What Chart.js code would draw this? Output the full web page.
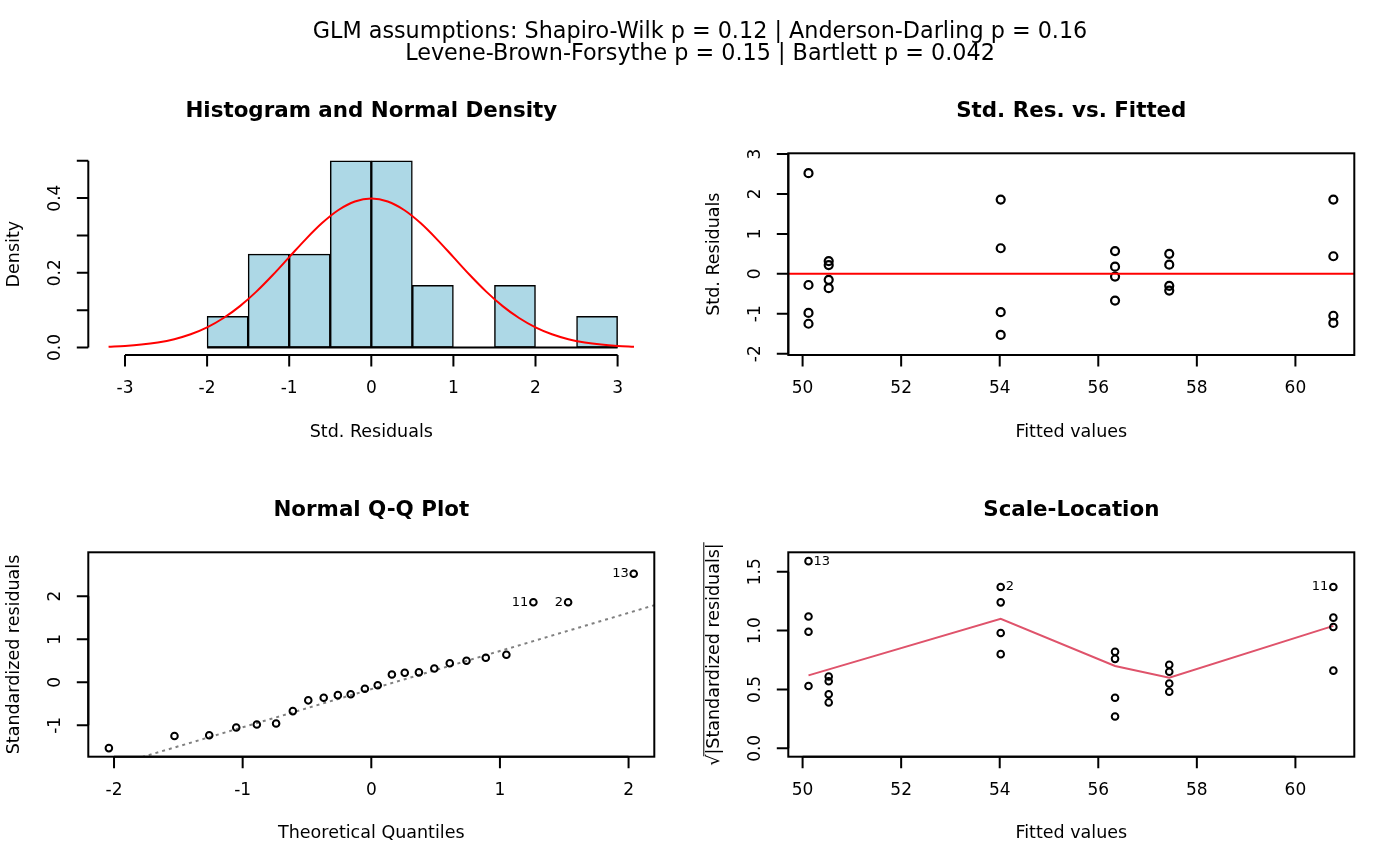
<!DOCTYPE html>
<html>
<head>
<meta charset="utf-8">
<script src="https://cdn.jsdelivr.net/npm/chart.js@4.4.1/dist/chart.umd.min.js"></script>
<style>
  body { margin: 0; background: #fff; }
  #page { position: relative; width: 1400px; height: 866px; font-family: "DejaVu Sans", sans-serif; }
  canvas { position: absolute; }
  #main-title { position: absolute; left: 0; top: 19.8px; width: 1400px; text-align: center;
                font-size: 22.3px; line-height: 21.7px; color: #000; }
</style>
</head>
<body>
<div id="page">
  <canvas id="hist" width="700" height="480" style="left:0;top:0"></canvas>
  <canvas id="resfit" width="700" height="480" style="left:700px;top:0"></canvas>
  <canvas id="qq" width="700" height="433" style="left:0;top:433px"></canvas>
  <canvas id="scaleloc" width="700" height="433" style="left:700px;top:433px"></canvas>
  <div id="main-title">GLM assumptions: Shapiro-Wilk p = 0.12 | Anderson-Darling p = 0.16<br>Levene-Brown-Forsythe p = 0.15 | Bartlett p = 0.042</div>
</div>
<script>
// ---- data ----
// histogram of standardized residuals (bin width 0.5)
const binMids = [-1.75, -1.25, -0.75, -0.25, 0.25, 0.75, 1.25, 1.75, 2.25, 2.75];
const binDensity = [0.0833, 0.25, 0.25, 0.5, 0.5, 0.1667, 0, 0.1667, 0, 0.0833];
const binEdges = [-2, 3];

// normal density curve
const curveX = [-3.2, -3.0, -2.8, -2.6, -2.4, -2.2, -2.0, -1.8, -1.6, -1.4, -1.2, -1.0, -0.8, -0.6, -0.4, -0.2, 0,
                0.2, 0.4, 0.6, 0.8, 1.0, 1.2, 1.4, 1.6, 1.8, 2.0, 2.2, 2.4, 2.6, 2.8, 3.0, 3.2];
const curveY = [0.0024, 0.0044, 0.0079, 0.0136, 0.0224, 0.0355, 0.054, 0.079, 0.1109, 0.1497, 0.1942, 0.242, 0.2897, 0.3332, 0.3683, 0.391, 0.3989,
                0.391, 0.3683, 0.3332, 0.2897, 0.242, 0.1942, 0.1497, 0.1109, 0.079, 0.054, 0.0355, 0.0224, 0.0136, 0.0079, 0.0044, 0.0024];

// fitted values and standardized residuals
const fitted = [50.12, 50.12, 50.12, 50.12, 50.53, 50.53, 50.53, 50.53, 54.02, 54.02, 54.02, 54.02,
                56.34, 56.34, 56.34, 56.34, 57.44, 57.44, 57.44, 57.44, 60.77, 60.77, 60.77, 60.77];
const stdRes = [2.52, -0.28, -0.98, -1.25, 0.32, 0.22, -0.15, -0.36, 1.86, 0.64, -0.96, -1.53,
                0.57, 0.18, -0.07, -0.67, 0.50, 0.23, -0.30, -0.42, 1.86, 0.44, -1.05, -1.23];
const sqrtAbsRes = [1.59, 0.53, 0.99, 1.12, 0.57, 0.46, 0.39, 0.61, 1.37, 0.80, 0.98, 1.24,
                    0.76, 0.43, 0.27, 0.82, 0.71, 0.48, 0.55, 0.65, 1.37, 0.66, 1.03, 1.11];

// smoother on scale-location
const smoothX = [50.12, 54.02, 56.34, 57.44, 60.77];
const smoothY = [0.62, 1.10, 0.70, 0.60, 1.04];

// normal Q-Q
const qqTheo = [-2.04, -1.53, -1.26, -1.05, -0.89, -0.74, -0.61, -0.49, -0.37, -0.26, -0.16, -0.05,
                0.05, 0.16, 0.26, 0.37, 0.49, 0.61, 0.74, 0.89, 1.05, 1.26, 1.53, 2.04];
const qqSample = [-1.53, -1.25, -1.23, -1.05, -0.98, -0.96, -0.67, -0.42, -0.36, -0.30, -0.28, -0.15,
                  -0.07, 0.18, 0.22, 0.23, 0.32, 0.44, 0.50, 0.57, 0.64, 1.86, 1.86, 2.52];
const qqLineX = [-2.2, 2.2];
const qqLineY = [-2.11, 1.79];

// ticks
const histXTicks = [-3, -2, -1, 0, 1, 2, 3];
const histYTicks = [0, 0.1, 0.2, 0.3, 0.4, 0.5];
const histYLabels = ['0.0', '', '0.2', '', '0.4', ''];
const fitXTicks = [50, 52, 54, 56, 58, 60];
const resYTicks = [-2, -1, 0, 1, 2, 3];
const qqXTicks = [-2, -1, 0, 1, 2];
const qqYTicks = [-1, 0, 1, 2];
const slYTicks = [0, 0.5, 1, 1.5];
const slYLabels = ['0.0', '0.5', '1.0', '1.5'];

const FONT = '"DejaVu Sans", sans-serif';
const TICK = 11.5;

// R-style axes, box, titles and point labels drawn on top of the library's scales
const rAxes = {
    id: 'rAxes',
    afterDraw(chart, args, o) {
        const ctx = chart.ctx, a = chart.chartArea;
        const xs = chart.scales.x, ys = chart.scales.y;
        ctx.save();
        ctx.strokeStyle = '#000';
        ctx.fillStyle = '#000';
        ctx.lineWidth = 2;
        if (o.box) ctx.strokeRect(a.left, a.top, a.right - a.left, a.bottom - a.top);

        // x axis
        const xp = o.xTicks.map(v => xs.getPixelForValue(v));
        ctx.beginPath();
        ctx.moveTo(xp[0], a.bottom);
        ctx.lineTo(xp[xp.length - 1], a.bottom);
        xp.forEach(p => { ctx.moveTo(p, a.bottom); ctx.lineTo(p, a.bottom + TICK); });
        // y axis
        const yp = o.yTicks.map(v => ys.getPixelForValue(v));
        ctx.moveTo(a.left, yp[0]);
        ctx.lineTo(a.left, yp[yp.length - 1]);
        yp.forEach(p => { ctx.moveTo(a.left, p); ctx.lineTo(a.left - TICK, p); });
        ctx.stroke();

        // tick labels
        ctx.font = '17px ' + FONT;
        ctx.textAlign = 'center';
        ctx.textBaseline = 'middle';
        xp.forEach((p, i) => ctx.fillText(o.xLabels ? o.xLabels[i] : String(o.xTicks[i]), p, a.bottom + 33.5));
        yp.forEach((p, i) => {
            const txt = o.yLabels ? o.yLabels[i] : String(o.yTicks[i]);
            if (!txt) return;
            ctx.save();
            ctx.translate(a.left - 33, p);
            ctx.rotate(-Math.PI / 2);
            ctx.fillText(txt, 0, 0);
            ctx.restore();
        });

        // axis titles
        const cx = (a.left + a.right) / 2, cy = (a.top + a.bottom) / 2;
        ctx.font = '17.5px ' + FONT;
        ctx.fillText(o.xTitle, cx, a.bottom + 77);
        ctx.save();
        ctx.translate(a.left - 74, cy);
        ctx.rotate(-Math.PI / 2);
        ctx.fillText(o.yTitle, 0, 0);
        if (o.sqrtBar) {
            // overbar of the radical sign
            const w = ctx.measureText(o.yTitle).width;
            const w0 = ctx.measureText('√').width;
            ctx.lineWidth = 1;
            ctx.beginPath();
            ctx.moveTo(-w / 2 + w0 * 0.85, -10.5);
            ctx.lineTo(w / 2 + 1, -10.5);
            ctx.stroke();
        }
        ctx.restore();

        // panel title
        ctx.font = 'bold 21.4px ' + FONT;
        ctx.textBaseline = 'alphabetic';
        ctx.fillText(o.title, cx, a.top - 36.6);

        // labels next to points
        ctx.font = '13px ' + FONT;
        ctx.textBaseline = 'middle';
        (o.pointLabels || []).forEach(l => {
            const pt = chart.getDatasetMeta(l.ds).data[l.i];
            ctx.textAlign = l.side === 'left' ? 'right' : 'left';
            ctx.fillText(l.text, pt.x + (l.side === 'left' ? -5 : 5), pt.y);
        });
        ctx.restore();
    }
};

function baseOptions(xMin, xMax, yMin, yMax, padTop, padBottom, axes) {
    return {
        responsive: false,
        animation: false,
        layout: { padding: { left: 88.3, right: 45.7, top: padTop, bottom: padBottom } },
        scales: {
            x: { type: 'linear', display: false, min: xMin, max: xMax, offset: false },
            y: { type: 'linear', display: false, min: yMin, max: yMax }
        },
        plugins: { legend: { display: false }, tooltip: { enabled: false }, rAxes: axes }
    };
}

const pointStyle = (r, bw) => ({
    pointRadius: r, pointBorderWidth: bw, pointBorderColor: '#000',
    pointBackgroundColor: 'rgba(0,0,0,0)', showLine: false
});

// ---- histogram and normal density ----
new Chart(document.getElementById('hist'), {
    type: 'bar',
    data: {
        datasets: [
            {
                type: 'line', order: 0,
                data: curveX.map((x, i) => ({ x: x, y: curveY[i] })),
                borderColor: '#FF0000', borderWidth: 2, pointRadius: 0,
                cubicInterpolationMode: 'monotone'
            },
            {
                type: 'line', order: 1,
                data: binEdges.map(x => ({ x: x, y: 0 })),
                borderColor: '#000', borderWidth: 2, pointRadius: 0
            },
            {
                type: 'bar', order: 2,
                data: binMids.map((x, i) => ({ x: x, y: binDensity[i] })),
                backgroundColor: '#ADD8E6', borderColor: '#000', borderWidth: 1.5,
                borderSkipped: false, barPercentage: 1, categoryPercentage: 1
            }
        ]
    },
    options: baseOptions(-3.447, 3.447, -0.02, 0.52, 153.3, 125, {
        box: false, title: 'Histogram and Normal Density',
        xTitle: 'Std. Residuals', yTitle: 'Density',
        xTicks: histXTicks, yTicks: histYTicks, yLabels: histYLabels
    }),
    plugins: [rAxes]
});

// ---- std. residuals vs fitted ----
const fitMin = 49.71, fitMax = 61.195;
new Chart(document.getElementById('resfit'), {
    type: 'scatter',
    data: {
        datasets: [
            {
                type: 'line', order: 0,
                data: [{ x: fitMin, y: 0 }, { x: fitMax, y: 0 }],
                borderColor: '#FF0000', borderWidth: 2, pointRadius: 0
            },
            Object.assign({ order: 1, data: fitted.map((x, i) => ({ x: x, y: stdRes[i] })) }, pointStyle(4, 2.2))
        ]
    },
    options: baseOptions(fitMin, fitMax, -2.033, 3.018, 153.3, 125, {
        box: true, title: 'Std. Res. vs. Fitted',
        xTitle: 'Fitted values', yTitle: 'Std. Residuals',
        xTicks: fitXTicks, yTicks: resYTicks
    }),
    plugins: [rAxes]
});

// ---- normal Q-Q ----
new Chart(document.getElementById('qq'), {
    type: 'scatter',
    data: {
        datasets: [
            Object.assign({ order: 0, data: qqTheo.map((x, i) => ({ x: x, y: qqSample[i] })) }, pointStyle(3.3, 2)),
            {
                type: 'line', order: 1,
                data: qqLineX.map((x, i) => ({ x: x, y: qqLineY[i] })),
                borderColor: '#808080', borderWidth: 2, borderDash: [3, 4], pointRadius: 0
            }
        ]
    },
    options: baseOptions(-2.2, 2.2, -1.73, 3.02, 119.3, 109.3, {
        box: true, title: 'Normal Q-Q Plot',
        xTitle: 'Theoretical Quantiles', yTitle: 'Standardized residuals',
        xTicks: qqXTicks, yTicks: qqYTicks,
        pointLabels: [
            { ds: 0, i: 21, text: '11', side: 'left' },
            { ds: 0, i: 22, text: '2', side: 'left' },
            { ds: 0, i: 23, text: '13', side: 'left' }
        ]
    }),
    plugins: [rAxes]
});

// ---- scale-location ----
new Chart(document.getElementById('scaleloc'), {
    type: 'scatter',
    data: {
        datasets: [
            Object.assign({ order: 0, data: fitted.map((x, i) => ({ x: x, y: sqrtAbsRes[i] })) }, pointStyle(3.3, 2)),
            {
                type: 'line', order: 1,
                data: smoothX.map((x, i) => ({ x: x, y: smoothY[i] })),
                borderColor: '#DF536B', borderWidth: 2, pointRadius: 0
            }
        ]
    },
    options: baseOptions(fitMin, fitMax, -0.071, 1.665, 119.3, 109.3, {
        box: true, title: 'Scale-Location',
        xTitle: 'Fitted values', yTitle: '√|Standardized residuals|', sqrtBar: true,
        xTicks: fitXTicks, yTicks: slYTicks, yLabels: slYLabels,
        pointLabels: [
            { ds: 0, i: 0, text: '13', side: 'right' },
            { ds: 0, i: 8, text: '2', side: 'right' },
            { ds: 0, i: 20, text: '11', side: 'left' }
        ]
    }),
    plugins: [rAxes]
});
</script>
</body>
</html>
